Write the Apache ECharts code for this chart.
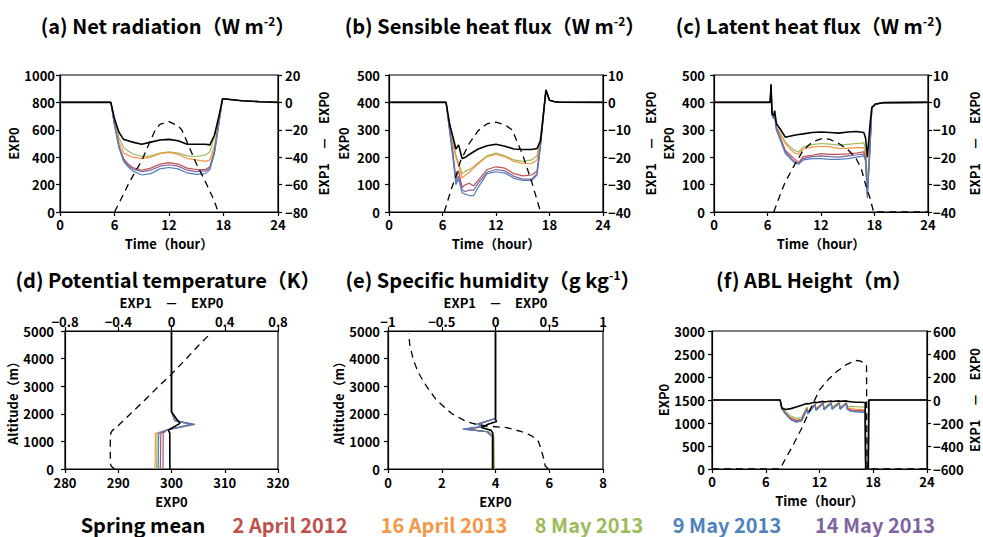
<!DOCTYPE html>
<html>
<head>
<meta charset="utf-8">
<script src="https://cdn.jsdelivr.net/npm/echarts@6/dist/echarts.min.js"></script>
<style>html,body{margin:0;padding:0;background:#fff;}#c{width:983px;height:537px;}</style>
</head>
<body>
<div id="c"></div>
<script>
// ---------- DATA ----------
const seriesNames = ['Spring mean', '2 April 2012', '16 April 2013', '8 May 2013', '9 May 2013', '14 May 2013'];
const panelTitles = ['(a) Net radiation（W m', '(b) Sensible heat flux（W m', '(c) Latent heat flux（W m', '(d) Potential temperature（K）', '(e) Specific humidity（g kg', '(f) ABL Height（m）'];
const timeTicks = [0, 6, 12, 18, 24];

// (a) Net radiation: solid = EXP1-EXP0 (right axis), dashed = EXP0 (left axis)
const tA = [0, 5.6, 6, 6.5, 7, 7.5, 8, 9, 10, 11, 12, 13, 14, 15, 16, 16.5, 17, 17.5, 17.9, 20, 22, 24];
const aMean  = [0, 0, -12, -22, -27, -28, -29, -30.5, -29, -27.5, -27, -28, -30.5, -30.5, -30.5, -31, -24, -10, 2.7, 1.2, 0.5, 0];
const aApr12 = [0, 0, -16, -32, -41, -45, -47.5, -49.5, -48, -45, -44, -45, -48, -49, -49, -47, -35, -14, 2.7, 1.2, 0.5, 0];
const aApr16 = [0, 0, -15, -29, -37, -38.5, -40, -41, -40, -37.5, -36.5, -38, -41, -42, -43, -42, -32, -12, 2.7, 1.2, 0.5, 0];
const aMay8  = [0, 0, -14, -26, -33, -35.5, -37.5, -39.5, -39, -37, -36, -37, -39, -39.5, -38.5, -36, -25, -10, 2.7, 1.2, 0.5, 0];
const aMay9  = [0, 0, -17, -33, -43, -47, -50, -53, -52, -48.5, -47.5, -48.5, -51.5, -52.5, -52, -49, -37, -15, 2.7, 1.2, 0.5, 0];
const aMay14 = [0, 0, -16, -33, -42, -46, -48.5, -50.5, -49.5, -46.5, -45.5, -46.5, -49.5, -50.5, -50, -48, -37, -15, 2.7, 1.2, 0.5, 0];
const tA0 = [6, 7, 7.5, 8, 9, 10, 10.5, 11, 12, 13, 13.4, 14, 14.7, 15, 16, 17, 17.4];
const aExp0 = [0, 130, 200, 260, 375, 527, 600, 640, 660, 628, 600, 510, 400, 354, 222, 80, 0];

// (b) Sensible heat flux
const tB = [0, 6.4, 6.8, 7.2, 7.5, 7.8, 8.2, 8.6, 9, 9.5, 10, 11, 12, 13, 14, 15, 16, 16.6, 17, 17.3, 17.6, 18, 18.5, 19, 24];
const bMean  = [0, 0, -8, -13, -17, -15.5, -20.5, -20, -19, -18, -17, -15.8, -15.3, -16, -17, -17.2, -17.2, -16.8, -14, -5, 4.5, 0.8, 0.3, 0.1, 0];
const bApr12 = [0, 0, -10, -19, -28, -25, -31, -30, -29.5, -30.5, -28.5, -24.5, -23.5, -24, -26, -26.8, -26.5, -25, -15, -5, 4.5, 0.8, 0.3, 0.1, 0];
const bApr16 = [0, 0, -9, -16, -20, -23, -27.5, -26.5, -25.5, -24, -22.5, -19.8, -19, -19.8, -21.5, -22.3, -22.3, -21, -13, -4.5, 4.5, 0.8, 0.3, 0.1, 0];
const bMay8  = [0, 0, -8.5, -15, -19, -22, -26, -25, -24.5, -23.5, -22, -19.5, -18.5, -19.5, -21, -21.5, -21, -19.5, -12, -4, 4.5, 0.8, 0.3, 0.1, 0];
const bMay9  = [0, 0, -10.5, -21, -30, -28, -33, -33.5, -34, -34, -31, -26, -25.3, -25.8, -27.7, -28.5, -28.5, -26.5, -16, -5.5, 4.5, 0.8, 0.3, 0.1, 0];
const bMay14 = [0, 0, -10, -20, -29, -27, -32, -32.5, -32, -32, -29.5, -25.5, -24.5, -25, -27, -28, -28, -26, -15, -5, 4.5, 0.8, 0.3, 0.1, 0];
const tB0 = [6.2, 7, 7.5, 8, 9, 10, 11, 12, 13, 13.8, 14, 15, 16, 16.5, 17];
const bExp0 = [0, 85, 130, 185, 250, 297, 322, 328, 318, 300, 285, 208, 110, 55, 0];

// (c) Latent heat flux
const tC = [0, 6.3, 6.4, 6.5, 6.7, 6.8, 7, 7.4, 8, 9, 9.5, 10, 11, 12, 13, 14, 15, 16, 16.8, 17, 17.2, 17.5, 17.7, 18.1, 19, 24];
const cMean  = [0, 0, 6.5, -4, -4.8, -3, -7.8, -9.6, -12.7, -12, -11.7, -11.5, -11, -10.8, -11, -11.2, -10.8, -10.6, -11, -13, -20, -8, -1.8, -0.6, -0.1, 0];
const cApr12 = [0, 0, 6.5, -4.5, -6, -4.5, -9.5, -12.5, -17.5, -20.5, -22, -19.8, -19.3, -18.7, -19, -19, -18.8, -18.5, -18, -20, -33, -16, -2, -0.6, -0.1, 0];
const cApr16 = [0, 0, 6.5, -4.5, -5.5, -4, -9, -11.5, -15, -18.5, -18.8, -17, -16.3, -16, -16.2, -16.8, -16.8, -16.5, -16.5, -19, -31, -15, -2, -0.6, -0.1, 0];
const cMay8  = [0, 0, 6.5, -4.5, -5.5, -4, -9, -11, -14.5, -17.5, -18, -16.3, -15.4, -15, -15.2, -15.6, -15.3, -15, -14.8, -17, -30, -15, -2, -0.6, -0.1, 0];
const cMay9  = [0, 0, 6.5, -4.5, -6, -4.5, -10, -13.5, -18.7, -22, -22.5, -21, -20.5, -20.5, -20.8, -20.8, -20.5, -20, -19.5, -21.5, -34, -16, -2, -0.6, -0.1, 0];
const cMay14 = [0, 0, 6.5, -4.5, -6, -4.5, -10, -13, -18, -21.5, -22.5, -20.5, -19.8, -19.5, -19.8, -20, -19.5, -19.2, -18.8, -21, -35, -17, -2, -0.6, -0.1, 0];
const tC0 = [6.7, 7.5, 8, 9, 10, 11, 12, 12.5, 13, 14, 15, 15.85, 16.5, 17, 17.5, 17.9, 24];
const cExp0 = [0, 70, 110, 170, 225, 255, 267, 268, 265, 250, 228, 200, 160, 100, 50, 0, 0];

// (d) Potential temperature profiles: solid = EXP1-EXP0 (top axis), dashed = EXP0 (bottom axis)
const hDmean = [0, 1300, 1413, 1655, 1800, 2076, 5000];
const dMean  = [-0.012, -0.013, -0.024, 0.064, 0.039, 0, 0];
const hD = [0, 1290, 1413, 1617, 1750, 2076, 5000];
const dApr12 = [-0.084, -0.08, -0.036, 0.16, 0.026, 0, 0];
const dApr16 = [-0.124, -0.12, -0.036, 0.15, 0.026, 0, 0];
const dMay8  = [-0.112, -0.108, -0.036, 0.145, 0.026, 0, 0];
const dMay9  = [-0.1, -0.096, -0.036, 0.15, 0.026, 0, 0];
const dMay14 = [-0.064, -0.062, -0.036, 0.176, 0.026, 0, 0];
const hD0 = [0, 100, 200, 1000, 1300, 1400, 1500, 2000, 2500, 3000, 3400, 4000, 4500, 4900];
const dExp0 = [289.3, 288.7, 288.5, 288.5, 288.6, 288.9, 289.6, 292.3, 295.0, 297.6, 299.8, 302.8, 305.2, 307.3];

// (e) Specific humidity profiles
const hEmean = [0, 1300, 1400, 1500, 1620, 1720, 1800, 5000];
const eMean  = [-0.025, -0.025, -0.04, -0.13, -0.07, 0.01, 0, 0];
const hE = [0, 1170, 1350, 1445, 1554, 1626, 1830, 5000];
const eApr12 = [-0.025, -0.025, -0.075, -0.28, -0.09, -0.16, 0, 0];
const eApr16 = [-0.02, -0.02, -0.07, -0.27, -0.09, -0.16, 0, 0];
const eMay8  = [-0.01, -0.015, -0.06, -0.25, -0.08, -0.15, 0, 0];
const eMay9  = [-0.03, -0.03, -0.08, -0.29, -0.1, -0.17, 0, 0];
const eMay14 = [-0.03, -0.03, -0.08, -0.306, -0.1, -0.176, 0, 0];
const hE0 = [0, 110, 500, 1000, 1200, 1350, 1500, 1540, 1570, 1650, 1750, 2000, 2500, 3000, 3500, 4000, 4500, 4900];
const eExp0 = [5.97, 5.85, 5.76, 5.6, 5.35, 4.98, 4.42, 3.9, 3.5, 3.15, 2.86, 2.38, 1.8, 1.43, 1.12, 0.93, 0.81, 0.77];

// (f) ABL height
const tF = [0, 7.6, 7.8, 8.2, 8.8, 9.4, 10, 10.6, 10.7, 11.5, 11.6, 12.4, 12.5, 13.3, 13.4, 14.2, 14.3, 15.0, 15.1, 15.5, 16, 16.5, 17.1, 17.15, 17.45, 17.5, 24];
const fMean  = [0, 0, -70, -82, -75, -60, -45, -30, -35, -18, -24, -12, -17, -8, -13, -8, -12, -8, -12, -15, -20, -20, -22, -600, -600, 0, 0];
const fApr12 = [0, 0, -75, -115, -160, -180, -170, -75, -115, -38, -85, -28, -80, -25, -75, -25, -75, -28, -75, -85, -90, -92, -95, -600, -600, 0, 0];
const fApr16 = [0, 0, -75, -110, -155, -175, -165, -70, -110, -35, -80, -25, -75, -22, -70, -22, -70, -25, -70, -75, -80, -82, -85, -600, -600, 0, 0];
const fMay8  = [0, 0, -70, -100, -140, -160, -150, -60, -100, -30, -75, -20, -70, -18, -65, -18, -65, -20, -60, -55, -58, -60, -62, -600, -600, 0, 0];
const fMay9  = [0, 0, -78, -120, -172, -192, -182, -82, -120, -42, -90, -32, -85, -30, -80, -30, -80, -32, -80, -98, -103, -105, -108, -600, -600, 0, 0];
const fMay14 = [0, 0, -78, -120, -170, -190, -180, -80, -120, -40, -90, -30, -85, -28, -80, -28, -80, -30, -80, -95, -100, -102, -105, -600, -600, 0, 0];
const tF0 = [0, 7.6, 8, 9, 10, 11, 12, 13, 14, 15, 16, 16.5, 17, 17.25, 17.3, 24];
const fExp0 = [0, 0, 150, 500, 880, 1310, 1720, 1950, 2130, 2270, 2360, 2350, 2310, 2240, 0, 0];

// ---------- STYLE ----------
const FONT = "'Noto Sans CJK JP', 'Noto Sans', sans-serif";
const colors = ['#000000', '#c0504d', '#f79646', '#9bbb59', '#4f81bd', '#8064a2'];
const drawOrder = [3, 2, 1, 5, 4, 0]; // colored first, mean on top

const zip = (xs, ys) => xs.map((x, i) => [x, ys[i]]);
const fmt = v => String(Math.round(v * 100) / 100).replace('-', '−');

const grids = [
  {left: 60, top: 75, width: 218, height: 137},
  {left: 389, top: 75, width: 214, height: 137},
  {left: 714, top: 75, width: 214, height: 137},
  {left: 65, top: 331, width: 213, height: 138},
  {left: 388, top: 331, width: 215, height: 138},
  {left: 712, top: 331, width: 215, height: 138}
].map(g => Object.assign({show: true, borderColor: '#000', borderWidth: 1.2, backgroundColor: 'transparent'}, g));

function ax(o) {
  const base = {
    type: 'value',
    splitLine: {show: false},
    axisLine: {show: true, onZero: false, lineStyle: {color: '#000', width: 1.2}},
    axisTick: {show: true, inside: false, length: 4, lineStyle: {color: '#000', width: 1.2}},
    axisLabel: {color: '#000', fontFamily: FONT, fontWeight: 'bold', fontSize: 13, lineHeight: 13, margin: 6, formatter: fmt},
    nameLocation: 'middle',
    nameTextStyle: {color: '#000', fontFamily: FONT, fontWeight: 'bold', fontSize: 13, lineHeight: 14}
  };
  if (o.labelMargin !== undefined) { base.axisLabel.margin = o.labelMargin; delete o.labelMargin; }
  if (o.labelLH !== undefined) { base.axisLabel.lineHeight = o.labelLH; delete o.labelLH; }
  return Object.assign(base, o);
}
const DIFF = 'EXP1　－　EXP0';
const TIME = 'Time（hour）';

const xAxis = [
  ax({gridIndex: 0, min: 0, max: 24, interval: 6, name: TIME, nameGap: 24}),
  ax({gridIndex: 1, min: 0, max: 24, interval: 6, name: TIME, nameGap: 24}),
  ax({gridIndex: 2, min: 0, max: 24, interval: 6, name: TIME, nameGap: 24}),
  ax({gridIndex: 3, min: 280, max: 320, interval: 10, name: 'EXP0', nameGap: 25, position: 'bottom', labelMargin: 7}),
  ax({gridIndex: 3, min: -0.8, max: 0.8, interval: 0.4, name: DIFF, nameGap: 22, position: 'top', labelMargin: 4, labelLH: 12}),
  ax({gridIndex: 4, min: 0, max: 8, interval: 2, name: 'EXP0', nameGap: 25, position: 'bottom', labelMargin: 7}),
  ax({gridIndex: 4, min: -1, max: 1, interval: 0.5, name: DIFF, nameGap: 22, position: 'top', labelMargin: 4, labelLH: 12}),
  ax({gridIndex: 5, min: 0, max: 24, interval: 6, name: TIME, nameGap: 24})
];
const yAxis = [
  ax({gridIndex: 0, min: 0, max: 1000, interval: 200, name: 'EXP0', nameGap: 31, nameRotate: 90, position: 'left', labelMargin: 5}),
  ax({gridIndex: 0, min: -80, max: 20, interval: 20, name: DIFF, nameGap: 38, nameRotate: 90, position: 'right', labelMargin: 7}),
  ax({gridIndex: 1, min: 0, max: 500, interval: 100, name: 'EXP0', nameGap: 39, nameRotate: 90, position: 'left', labelMargin: 9}),
  ax({gridIndex: 1, min: -40, max: 10, interval: 10, name: DIFF, nameGap: 40, nameRotate: 90, position: 'right', labelMargin: 5}),
  ax({gridIndex: 2, min: 0, max: 500, interval: 100, name: 'EXP0', nameGap: 39, nameRotate: 90, position: 'left', labelMargin: 9}),
  ax({gridIndex: 2, min: -40, max: 10, interval: 10, name: DIFF, nameGap: 39, nameRotate: 90, position: 'right', labelMargin: 5}),
  ax({gridIndex: 3, min: 0, max: 5000, interval: 1000, name: 'Altitude（m）', nameGap: 37, nameRotate: 90, position: 'left', labelLH: 12, labelMargin: 11}),
  ax({gridIndex: 4, min: 0, max: 5000, interval: 1000, name: 'Altitude（m）', nameGap: 38, nameRotate: 90, position: 'left', labelLH: 12, labelMargin: 8}),
  ax({gridIndex: 5, min: 0, max: 3000, interval: 500, name: 'EXP0', nameGap: 41, nameRotate: 90, position: 'left', labelMargin: 7}),
  ax({gridIndex: 5, min: -600, max: 600, interval: 200, name: DIFF, nameGap: 40, nameRotate: 90, position: 'right', labelMargin: 6})
];

const series = [];
function solid(name, xi, yi, data, color) {
  series.push({type: 'line', name, xAxisIndex: xi, yAxisIndex: yi, data, showSymbol: false, symbol: 'none',
    lineStyle: {color, width: color === '#000000' ? 1.6 : 1.2}, itemStyle: {color}, animation: false,
    z: color === '#000000' ? 4 : 3, clip: true});
}
function dashed(xi, yi, data) {
  series.push({type: 'line', name: 'EXP0', xAxisIndex: xi, yAxisIndex: yi, data, showSymbol: false, symbol: 'none',
    lineStyle: {color: '#000', width: 1.3, type: [7, 5]}, animation: false, z: 5, clip: true});
}
const panA = [aMean, aApr12, aApr16, aMay8, aMay9, aMay14];
const panB = [bMean, bApr12, bApr16, bMay8, bMay9, bMay14];
const panC = [cMean, cApr12, cApr16, cMay8, cMay9, cMay14];
const panD = [dMean, dApr12, dApr16, dMay8, dMay9, dMay14];
const panE = [eMean, eApr12, eApr16, eMay8, eMay9, eMay14];
const panF = [fMean, fApr12, fApr16, fMay8, fMay9, fMay14];

drawOrder.forEach(i => {
  solid(seriesNames[i], 0, 1, zip(tA, panA[i]), colors[i]);
  solid(seriesNames[i], 1, 3, zip(tB, panB[i]), colors[i]);
  solid(seriesNames[i], 2, 5, zip(tC, panC[i]), colors[i]);
  solid(seriesNames[i], 4, 6, zip(panD[i], i === 0 ? hDmean : hD), colors[i]);
  solid(seriesNames[i], 6, 7, zip(panE[i], i === 0 ? hEmean : hE), colors[i]);
  solid(seriesNames[i], 7, 9, zip(tF, panF[i]), colors[i]);
});
dashed(0, 0, zip(tA0, aExp0));
dashed(1, 2, zip(tB0, bExp0));
dashed(2, 4, zip(tC0, cExp0));
dashed(3, 6, zip(dExp0, hD0));
dashed(5, 7, zip(eExp0, hE0));
dashed(7, 8, zip(tF0, fExp0));

// titles & legend as text
const richT = {
  b: {fontFamily: FONT, fontWeight: 'bold', fontSize: 20, color: '#000'},
  s: {fontFamily: FONT, fontWeight: 'bold', fontSize: 12, color: '#000', padding: [0, 0, 9, 0]}
};
const titlePos = [[168, 25], [495, 25], [815, 25], [168, 279], [493, 279], [814, 279]];
const titleSup = ['-2', '-2', '-2', null, '-1', null];
const graphic = [];
panelTitles.forEach((t, i) => {
  const txt = titleSup[i] ? `{b|${t}}{s|${titleSup[i]}}{b|）}` : `{b|${t}}`;
  graphic.push({type: 'text', x: titlePos[i][0], y: titlePos[i][1],
    style: {text: txt, rich: richT, align: 'center', verticalAlign: 'middle', fill: '#000'}});
});
const legendCenters = [143, 290, 444, 589, 727, 875];
seriesNames.forEach((n, i) => {
  graphic.push({type: 'text', x: legendCenters[i], y: 524,
    style: {text: n, fill: colors[i], font: `bold 20px ${FONT}`, lineHeight: 20, align: 'center', verticalAlign: 'middle'}});
});

const chart = echarts.init(document.getElementById('c'), null, {renderer: 'svg'});
chart.setOption({animation: false, backgroundColor: '#fff', grid: grids, xAxis, yAxis, series, graphic});
</script>
</body>
</html>
